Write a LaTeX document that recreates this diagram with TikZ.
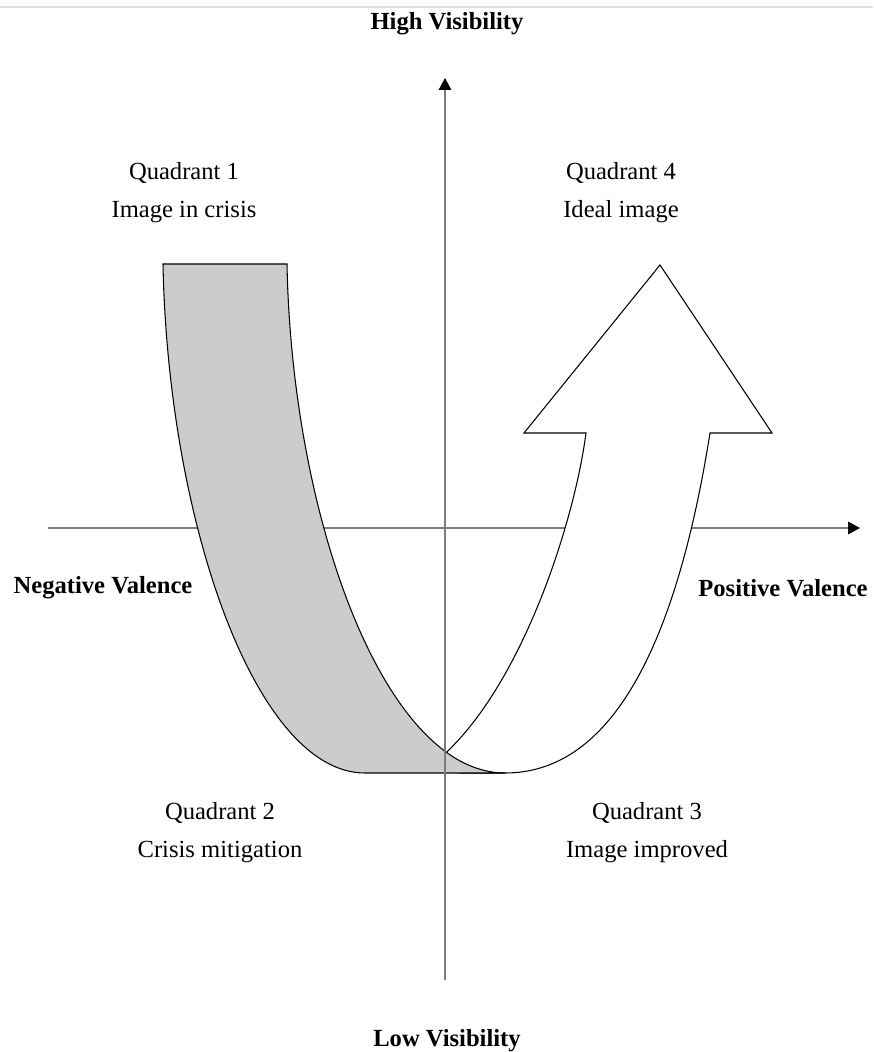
\documentclass[tikz,border=0pt]{standalone}
\usepackage{fontspec}
\setmainfont{Liberation Serif}
\usetikzlibrary{arrows.meta}
\definecolor{bandGray}{RGB}{204,204,204}
\definecolor{axisGray}{RGB}{125,125,125}
\tikzset{vispanel/.style={
  font=\fontsize{14}{22}\selectfont,
  axisline/.style={draw=axisGray, line width=0.9pt, -{Triangle[length=2.4mm, width=2.5mm, color=black]}},
  shapeline/.style={draw=black, line width=0.6pt},
  axislab/.style={font=\fontsize{14}{22}\selectfont\bfseries},
  quadlab/.style={align=center},
}}

\begin{document}
\begin{tikzpicture}[vispanel]
\useasboundingbox (-8.9,-10.48) rectangle (8.56,10.56);
% faint rule along the top edge
\draw[black!12, line width=0.6pt] (-8.9,10.42) -- (8.56,10.42);

% ---- axis end points ----
\coordinate (xneg)  at (-7.94,0);
\coordinate (xpos)  at (8.3,0);
\coordinate (ylow)  at (0,-9.04);
\coordinate (yhigh) at (0,9.0);

% horizontal axis lies under both shapes
\draw[axisline] (xneg) -- (xpos);

% ---- grey band corners ----
\coordinate (bandTL) at (-5.64,5.28);
\coordinate (bandTR) at (-3.16,5.28);
\coordinate (bandBR) at (1.2,-4.9);
\coordinate (bandBL) at (-1.6,-4.9);
% point where the arrow leaves the band
\path (bandTR) .. controls (-3.06,0.16) and (-1.2,-4.9) .. (bandBR) coordinate[pos=0.83] (meet);

% ---- white arrow (drawn first, the band covers its foot) ----
\filldraw[shapeline, fill=white] (meet) .. controls (1.6,-3.0) and (2.6,0.2) .. (2.82,1.9)
  -- (1.58,1.9) -- (4.3,5.26) -- (6.54,1.9) -- (5.3,1.9)
  .. controls (4.58,-2.63) and (3.21,-4.9) .. (bandBR) -- (0.3,-4.9) -- cycle;

% ---- grey band ----
\filldraw[shapeline, fill=bandGray] (bandTL) -- (bandTR)
  .. controls (-3.06,0.16) and (-1.2,-4.9) .. (bandBR) -- (bandBL)
  .. controls (-3.8,-4.9) and (-5.54,0.16) .. (bandTL) -- cycle;

% vertical axis on top
\draw[axisline] (ylow) -- (yhigh);

% ---- axis labels ----
\node[axislab] (high) at (0.04,10.08)  {High Visibility};
\node[axislab] (low)  at (0.04,-10.26) {Low Visibility};
\node[axislab] (neg)  at (-6.84,-1.2)  {Negative Valence};
\node[axislab] (pos)  at (6.76,-1.2)   {Positive Valence};

% ---- quadrants ----
\node[quadlab] (q1) at (-5.22,6.71) {Quadrant 1\\Image in crisis};
\node[quadlab] (q4) at (3.52,6.71)  {Quadrant 4\\Ideal image};
\node[quadlab] (q2) at (-4.5,-6.09) {Quadrant 2\\Crisis mitigation};
\node[quadlab] (q3) at (4.04,-6.09) {Quadrant 3\\Image improved};
\end{tikzpicture}
\end{document}
